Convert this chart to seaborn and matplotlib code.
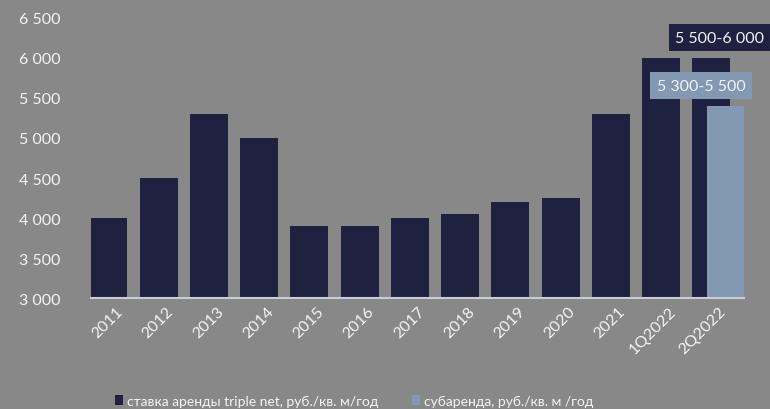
import matplotlib
matplotlib.use("Agg")
import matplotlib.pyplot as plt
import matplotlib.ticker as mticker
from matplotlib.patches import Patch
import seaborn as sns
import pandas as pd

periods = ["2011", "2012", "2013", "2014", "2015", "2016", "2017", "2018",
           "2019", "2020", "2021", "1Q2022", "2Q2022"]
rent = [4000, 4500, 5300, 5000, 3900, 3900, 4000, 4050, 4200, 4250, 5300, 6000, 6000]
sublease = [None] * 12 + [5400]

rent_label = "ставка аренды triple net, руб./кв. м/год"
sub_label = "субаренда, руб./кв. м /год"
rent_range = "5 500-6 000"
sub_range = "5 300-5 500"

BG = "#888888"
DARK = "#1e2140"
LIGHT = "#8398b2"
TXT = "#f4f4f4"

sns.set_theme(style="white")
# Lato has no cyrillic, fall back for those glyphs
plt.rcParams["font.family"] = ["Lato", "Open Sans", "DejaVu Sans"]

df = pd.DataFrame({"period": periods, "rent": rent, "sub": sublease})

fig = plt.figure(figsize=(7.7, 4.1), dpi=100, facecolor=BG)
ax = fig.add_axes([0.118, 0.2707, 0.848, 0.683])
ax.set_facecolor(BG)

bw = 38 / 50.25
shift = 7.5 / 50.25

sns.barplot(data=df, x="period", y="rent", color=DARK, width=bw, ax=ax, saturation=1)
n_dark = len(ax.patches)
sns.barplot(data=df, x="period", y="sub", color=LIGHT, width=bw, ax=ax, saturation=1)
for i, p in enumerate(ax.patches):
    p.set_x(p.get_x() + (-shift if i < n_dark else shift))
    p.set_linewidth(0)

ax.set_ylim(3000, 6500)
ax.set_xlim(-0.5, len(periods) - 0.5)
ax.yaxis.set_major_locator(mticker.MultipleLocator(500))
ax.yaxis.set_major_formatter(mticker.FuncFormatter(lambda v, _: f"{int(v):,}".replace(",", " ")))
ax.set_xlabel("")
ax.set_ylabel("")
for s in ["top", "right", "left"]:
    ax.spines[s].set_visible(False)
ax.spines["bottom"].set_color("#c8ccd8")
ax.spines["bottom"].set_linewidth(1.5)
ax.tick_params(axis="y", colors=TXT, labelsize=11.5, length=0, pad=22)
ax.tick_params(axis="x", colors=TXT, labelsize=11.5, length=0, pad=4)
plt.setp(ax.get_xticklabels(), rotation=45, ha="right", rotation_mode="anchor")

ax.text(12.02, 6256, rent_range, color=TXT, fontsize=11.5, ha="center", va="center",
        bbox=dict(boxstyle="square,pad=0.4", fc=DARK, ec="none"))
ax.text(11.65, 5656, sub_range, color=TXT, fontsize=11.5, ha="center", va="center",
        bbox=dict(boxstyle="square,pad=0.4", fc=LIGHT, ec="none"))

handles = [Patch(facecolor=DARK, edgecolor="none", label=rent_label),
           Patch(facecolor=LIGHT, edgecolor="none", label=sub_label)]
leg = fig.legend(handles=handles, loc="lower center", bbox_to_anchor=(0.46, -0.025), ncol=2,
                 frameon=False, fontsize=10, handlelength=0.6, handleheight=0.8,
                 handletextpad=0.3, columnspacing=2.4)
for t in leg.get_texts():
    t.set_color(TXT)

fig.savefig("out.png", dpi=100, facecolor=BG)
